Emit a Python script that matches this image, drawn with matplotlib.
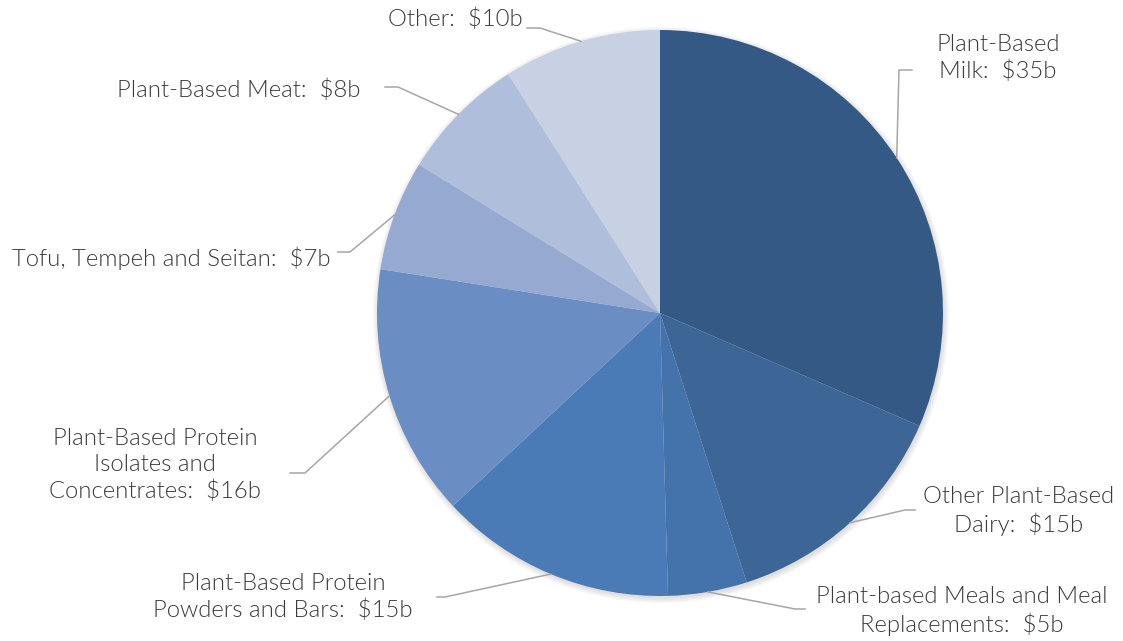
import numpy as np
import matplotlib.pyplot as plt
from matplotlib.patches import Circle

# market size by segment, $ billions
labels = ["Plant-Based\nMilk", "Other Plant-Based\nDairy", "Plant-based Meals and Meal\nReplacements",
          "Plant-Based Protein\nPowders and Bars", "Plant-Based Protein\nIsolates and\nConcentrates",
          "Tofu, Tempeh and Seitan", "Plant-Based Meat", "Other"]
values = [35, 15, 5, 15, 16, 7, 8, 10]
colors = ["#355985", "#3d6596", "#4473ab", "#4a7bb6", "#6a8ec3", "#95a9d1", "#afbfdb", "#c8d1e4"]

W, H = 1123, 641
cx, cy, R = 660, 641 - 313, 283

# label layout: text anchor (x, y in px from top), alignment, elbow point, line end
layout = [
    ((998, 58), "center", (899, 70), (912, 70)),
    ((1019, 511), "center", (905, 510), (915, 510)),
    ((962, 611), "center", (795, 609), (805, 609)),
    ((283, 597), "center", (445, 597), (437, 597)),
    ((155, 465), "center", (305, 473), (290, 473)),
    ((330, 258), "right", (350, 252), (338, 252)),
    ((360, 90), "right", (398, 87), (385, 87)),
    ((523, 19), "right", (540, 28), (527, 28)),
]

plt.rcParams['font.family'] = ['Lato', 'DejaVu Sans']

fig = plt.figure(figsize=(W / 100, H / 100), dpi=100)
ax = fig.add_axes([0, 0, 1, 1])

# soft shadow behind the pie
for i in range(4):
    ax.add_patch(Circle((cx + 1, cy - 2), R + 5 - i * 1.5, color='black', alpha=0.03, lw=0, zorder=0))

ax.pie(values, colors=colors, startangle=90, counterclock=False,
       center=(cx, cy), radius=R, wedgeprops=dict(linewidth=0), frame=True)
ax.set_xlim(0, W)
ax.set_ylim(0, H)
ax.set_aspect('equal')
ax.axis('off')

total = sum(values)
cum = np.cumsum([0] + values[:-1])
for lab, v, c0, (txy, ha, elbow, end) in zip(labels, values, cum, layout):
    ang = np.deg2rad((c0 + v / 2) / total * 360)
    px, py = cx + R * np.sin(ang), cy + R * np.cos(ang)
    ax.plot([px, elbow[0], end[0]], [py, H - elbow[1], H - end[1]], color='#a6a6a6', lw=1.1, zorder=3)
    ax.text(txy[0], H - txy[1], f"{lab}:  ${v}b", ha=ha, va='center', multialignment='center',
            fontsize=17.2, fontweight=300, color='#3a3a3a', linespacing=1.24)

fig.savefig("out.png", dpi=100)
